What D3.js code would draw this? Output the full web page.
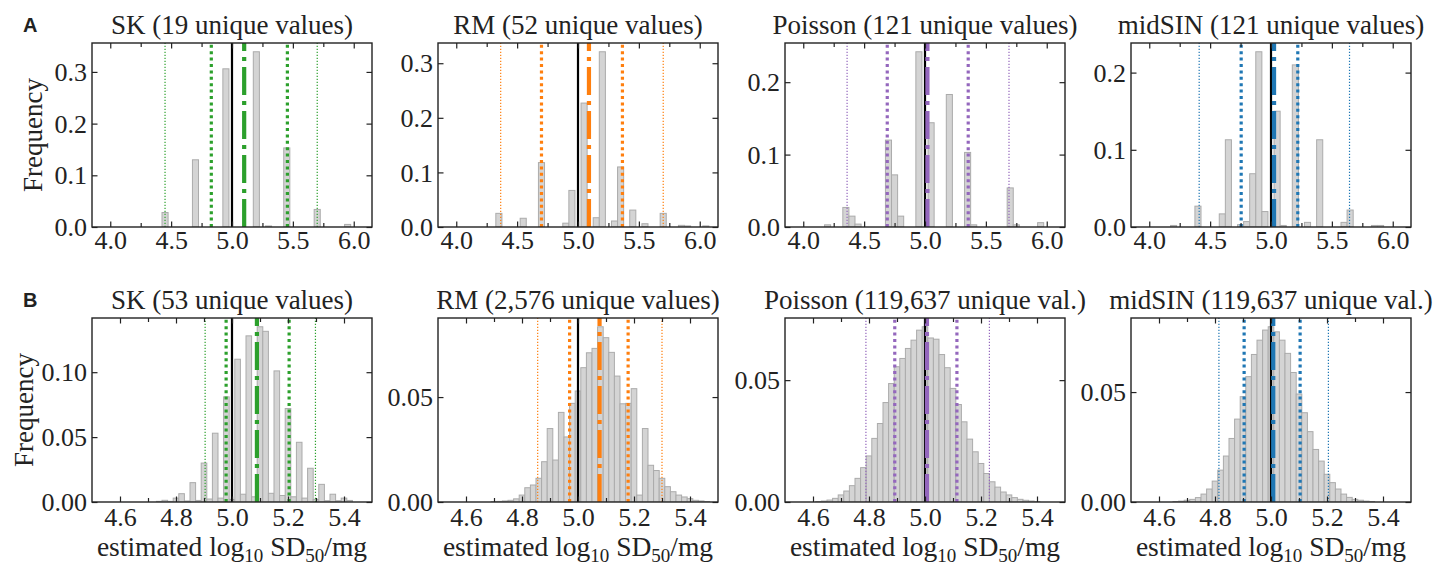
<!DOCTYPE html>
<html><head><meta charset="utf-8">
<script src="https://cdn.jsdelivr.net/npm/d3@7"></script>
<style>
body{margin:0;background:#fff;}
svg{display:block;}
</style>
</head><body>
<svg id="chart" width="1450" height="565"></svg>
<script>
// ---------------- DATA ----------------
const methods = ["SK", "RM", "Poisson", "midSIN"];
const methodColors = ["#2ca02c", "#ff7f0e", "#9467bd", "#1f77b4"];
const titlesA = ["SK (19 unique values)", "RM (52 unique values)", "Poisson (121 unique values)", "midSIN (121 unique values)"];
const titlesB = ["SK (53 unique values)", "RM (2,576 unique values)", "Poisson (119,637 unique val.)", "midSIN (119,637 unique val.)"];
const rowLabels = ["A", "B"];

// Row A: bin width 0.05, sparse bins (centre, frequency)
const binWidthA = 0.05;
const skA_bins = [4.45, 4.70, 4.95, 5.20, 5.30, 5.45, 5.70, 5.95];
const skA_freq = [0.028, 0.130, 0.306, 0.339, 0.002, 0.153, 0.034, 0.005];
const rmA_bins = [4.35, 4.55, 4.70, 4.90, 4.95, 5.05, 5.15, 5.20, 5.30, 5.35, 5.45, 5.55, 5.70, 5.85, 5.90, 6.05];
const rmA_freq = [0.025, 0.016, 0.118, 0.007, 0.067, 0.227, 0.017, 0.321, 0.011, 0.110, 0.031, 0.006, 0.025, 0.003, 0.002, 0.002];
const poA_bins = [4.20, 4.35, 4.40, 4.45, 4.70, 4.75, 4.80, 4.95, 5.05, 5.20, 5.35, 5.40, 5.70, 5.75, 5.95];
const poA_freq = [0.003, 0.027, 0.015, 0.004, 0.120, 0.072, 0.015, 0.242, 0.144, 0.183, 0.103, 0.003, 0.054, 0.003, 0.006];
const msA_bins = [4.20, 4.40, 4.60, 4.65, 4.75, 4.80, 4.85, 4.90, 4.95, 5.05, 5.10, 5.20, 5.30, 5.40, 5.60, 5.65, 5.85, 5.90];
const msA_freq = [0.002, 0.027, 0.017, 0.113, 0.003, 0.007, 0.069, 0.227, 0.020, 0.150, 0.002, 0.210, 0.006, 0.113, 0.006, 0.022, 0.002, 0.002];

// Row B: bin width 0.02, contiguous bins starting at the given centre
const binWidthB = 0.02;
const skB_start = 4.70;
const skB_freq = [0, 0, 0.0005, 0.0013, 0.0005, 0.003, 0.0064, 0.0008, 0.0149, 0.0012, 0.030, 0.0023, 0.053, 0.003, 0.081, 0.002,
  0.110, 0.006, 0.128, 0.004, 0.135, 0.1315, 0.0067, 0.101, 0.005, 0.072, 0.004, 0.046, 0.003, 0.026, 0.002, 0.0136, 0.001, 0.006, 0.001, 0.003, 0.0012];
const rmB_start = 4.70;
const rmB_freq = [0.0002, 0.0003, 0.0005, 0.0008, 0.0015, 0.0033, 0.0068, 0.0081, 0.0113, 0.0192, 0.035, 0.020, 0.0427, 0.031, 0.047, 0.0529,
  0.064, 0.0711, 0.0732, 0.0835, 0.0783, 0.0713, 0.060, 0.0468, 0.047, 0.054, 0.0033, 0.035, 0.0175, 0.015, 0.0113, 0.0073, 0.0049, 0.0033,
  0.0024, 0.0016, 0.0008, 0.0005, 0.0002];
const poB_start = 4.62;
const poB_freq = [0.0002, 0.0004, 0.0008, 0.0015, 0.0029, 0.0045, 0.0067, 0.0097, 0.0141, 0.0189, 0.0261, 0.0322, 0.0408, 0.0486, 0.0555,
  0.0589, 0.0630, 0.0664, 0.0705, 0.0719, 0.0673, 0.0668, 0.0605, 0.0551, 0.0466, 0.0400, 0.0329, 0.0258, 0.0206, 0.0158, 0.0117, 0.0083,
  0.0061, 0.0041, 0.0029, 0.0018, 0.0011, 0.0007, 0.0004, 0.0002];
const msB_start = 4.66;
const msB_freq = [0.0002, 0.0004, 0.0008, 0.0012, 0.0020, 0.0036, 0.0059, 0.0095, 0.0145, 0.0209, 0.0289, 0.0377, 0.0479, 0.0570, 0.0671,
  0.0736, 0.0782, 0.0797, 0.0774, 0.0736, 0.0676, 0.0589, 0.0491, 0.0406, 0.0320, 0.0239, 0.0186, 0.0126, 0.0088, 0.0059, 0.0036, 0.0021,
  0.0012, 0.0008, 0.0004, 0.0002];

// Reference lines: [outer low, inner low, estimate mean, inner high, outer high]
const trueValue = 5.0;
const skA_lines = [4.45, 4.83, 5.10, 5.455, 5.70];
const rmA_lines = [4.365, 4.70, 5.09, 5.365, 5.70];
const poA_lines = [4.36, 4.69, 5.02, 5.355, 5.69];
const msA_lines = [4.41, 4.755, 5.025, 5.22, 5.645];
const skB_lines = [4.904, 4.979, 5.089, 5.204, 5.298];
const rmB_lines = [4.856, 4.970, 5.077, 5.179, 5.300];
const poB_lines = [4.789, 4.892, 5.007, 5.114, 5.230];
const msB_lines = [4.814, 4.904, 5.008, 5.104, 5.205];

// Axes
const xDomainA = [3.85, 6.15];
const xDomainB = [4.5, 5.5];
const xTicksA = [4.0, 4.5, 5.0, 5.5, 6.0];
const xMinorA = [4.25, 4.75, 5.25, 5.75];
const xTicksB = [4.6, 4.8, 5.0, 5.2, 5.4];
const xMinorB = [4.7, 4.9, 5.1, 5.3];
const yStepA = 0.1, yStepB = 0.05;

// ---------------- LAYOUT ----------------
const SERIF = "'Liberation Serif', 'Times New Roman', Times, 'DejaVu Serif', serif";
const panelLefts = [92, 438, 785, 1131];
const panelW = 280, panelH = 184;
const rowTops = [43, 318];

const svg = d3.select("#chart");

function binsFromStart(start, freq, step) {
  return freq.map((f, i) => ({c: +(start + i * step).toFixed(3), f}));
}

const rowA = [
  {bins: skA_bins.map((c, i) => ({c, f: skA_freq[i]})), lines: skA_lines},
  {bins: rmA_bins.map((c, i) => ({c, f: rmA_freq[i]})), lines: rmA_lines},
  {bins: poA_bins.map((c, i) => ({c, f: poA_freq[i]})), lines: poA_lines},
  {bins: msA_bins.map((c, i) => ({c, f: msA_freq[i]})), lines: msA_lines}
];
const rowB = [
  {bins: binsFromStart(skB_start, skB_freq, binWidthB), lines: skB_lines},
  {bins: binsFromStart(rmB_start, rmB_freq, binWidthB), lines: rmB_lines},
  {bins: binsFromStart(poB_start, poB_freq, binWidthB), lines: poB_lines},
  {bins: binsFromStart(msB_start, msB_freq, binWidthB), lines: msB_lines}
];

const lineStyles = [
  {w: 1.2, dash: "1.2,1.8"},
  {w: 3.2, dash: "3,3.4"},
  {w: 4.2, dash: "28,6,4,6"},
  {w: 3.2, dash: "3,3.4"},
  {w: 1.2, dash: "1.2,1.8"}
];

function styleText(sel, size) {
  sel.selectAll("text")
    .attr("font-family", SERIF)
    .style("font-family", SERIF)
    .attr("font-size", size)
    .attr("fill", "#222");
}

function drawPanel(row, col, spec) {
  const left = panelLefts[col], top = rowTops[row];
  const isA = row === 0;
  const bw = isA ? binWidthA : binWidthB;
  const x = d3.scaleLinear().domain(isA ? xDomainA : xDomainB).range([left, left + panelW]);
  const yMax = d3.max(spec.bins, d => d.f) * 1.05;
  const y = d3.scaleLinear().domain([0, yMax]).range([top + panelH, top]);
  const g = svg.append("g");
  const clipId = `clip-${row}-${col}`;
  g.append("clipPath").attr("id", clipId).append("rect")
    .attr("x", left).attr("y", top).attr("width", panelW).attr("height", panelH);

  const plot = g.append("g").attr("clip-path", `url(#${clipId})`);
  plot.selectAll("rect.bar").data(spec.bins.filter(d => d.f > 0)).join("rect")
    .attr("class", "bar")
    .attr("x", d => x(d.c - bw / 2))
    .attr("width", d => x(d.c + bw / 2) - x(d.c - bw / 2))
    .attr("y", d => y(d.f))
    .attr("height", d => y(0) - y(d.f))
    .attr("fill", "#d4d4d4")
    .attr("stroke", "#ababab")
    .attr("stroke-width", 1);

  plot.append("line")
    .attr("x1", x(trueValue)).attr("x2", x(trueValue))
    .attr("y1", y.range()[0]).attr("y2", y.range()[1])
    .attr("stroke", "#000").attr("stroke-width", 2.2);

  spec.lines.forEach((v, i) => {
    plot.append("line")
      .attr("x1", x(v)).attr("x2", x(v))
      .attr("y1", y.range()[0]).attr("y2", y.range()[1])
      .attr("stroke", methodColors[col])
      .attr("stroke-width", lineStyles[i].w)
      .attr("stroke-dasharray", lineStyles[i].dash);
  });

  const yTicks = d3.range(0, yMax + 1e-9, isA ? yStepA : yStepB);
  const fmt = d3.format(isA ? ".1f" : ".2f");
  const xb = g.append("g").attr("transform", `translate(0,${top + panelH})`)
    .call(d3.axisBottom(x).tickValues(isA ? xTicksA : xTicksB).tickSize(-5.5).tickPadding(isA ? 3.5 : 6)
      .tickFormat(d3.format(".1f")));
  const xbm = g.append("g").attr("transform", `translate(0,${top + panelH})`)
    .call(d3.axisBottom(x).tickValues(isA ? xMinorA : xMinorB).tickSize(-4).tickFormat(""));
  const xt = g.append("g").attr("transform", `translate(0,${top})`)
    .call(d3.axisTop(x).tickValues(isA ? xTicksA : xTicksB).tickSize(-5.5).tickFormat(""));
  const xtm = g.append("g").attr("transform", `translate(0,${top})`)
    .call(d3.axisTop(x).tickValues(isA ? xMinorA : xMinorB).tickSize(-4).tickFormat(""));
  const yl = g.append("g").attr("transform", `translate(${left},0)`)
    .call(d3.axisLeft(y).tickValues(yTicks).tickSize(-5.5).tickPadding(5).tickFormat(fmt));
  const yr = g.append("g").attr("transform", `translate(${left + panelW},0)`)
    .call(d3.axisRight(y).tickValues(yTicks).tickSize(-5.5).tickFormat(""));
  [xb, xbm, xt, xtm, yl, yr].forEach(a => {
    a.select(".domain").remove();
    a.selectAll(".tick line").attr("stroke", "#222").attr("stroke-width", 1.2);
    a.attr("font-family", null).attr("font-size", null);
  });
  styleText(xb, 26);
  styleText(yl, 26);
  yl.selectAll("text").attr("dy", "0.33em");

  g.append("rect")
    .attr("x", left).attr("y", top).attr("width", panelW).attr("height", panelH)
    .attr("fill", "none").attr("stroke", "#222").attr("stroke-width", 1.4);

  g.append("text")
    .attr("font-family", SERIF).style("font-family", SERIF).attr("fill", "#222")
    .attr("x", left + panelW / 2).attr("y", top - 9)
    .attr("text-anchor", "middle").attr("font-size", 27)
    .text(isA ? titlesA[col] : titlesB[col]);

  if (col === 0) {
    g.append("text")
      .attr("font-family", SERIF).style("font-family", SERIF).attr("fill", "#222")
      .attr("transform", `translate(${isA ? 42 : 33},${top + panelH / 2}) rotate(-90)`)
      .attr("text-anchor", "middle").attr("font-size", 27)
      .text("Frequency");
  }
  if (!isA) {
    const t = g.append("text")
      .attr("font-family", SERIF).style("font-family", SERIF).attr("fill", "#222")
      .attr("x", left + panelW / 2).attr("y", 556)
      .attr("text-anchor", "middle").attr("font-size", 27.5);
    t.append("tspan").text("estimated log");
    t.append("tspan").attr("font-size", 19).attr("dy", 6).text("10");
    t.append("tspan").attr("dy", -6).text(" SD");
    t.append("tspan").attr("font-size", 19).attr("dy", 6).text("50");
    t.append("tspan").attr("dy", -6).text("/mg");
  }
}

rowA.forEach((s, i) => drawPanel(0, i, s));
rowB.forEach((s, i) => drawPanel(1, i, s));

rowLabels.forEach((lab, i) => {
  svg.append("text")
    .attr("x", 23).attr("y", i === 0 ? 32 : 307)
    .attr("font-family", "'Liberation Sans', Arial, sans-serif")
    .attr("font-weight", "bold").attr("font-size", 20).attr("fill", "#222")
    .text(lab);
});
</script>
</body></html>
